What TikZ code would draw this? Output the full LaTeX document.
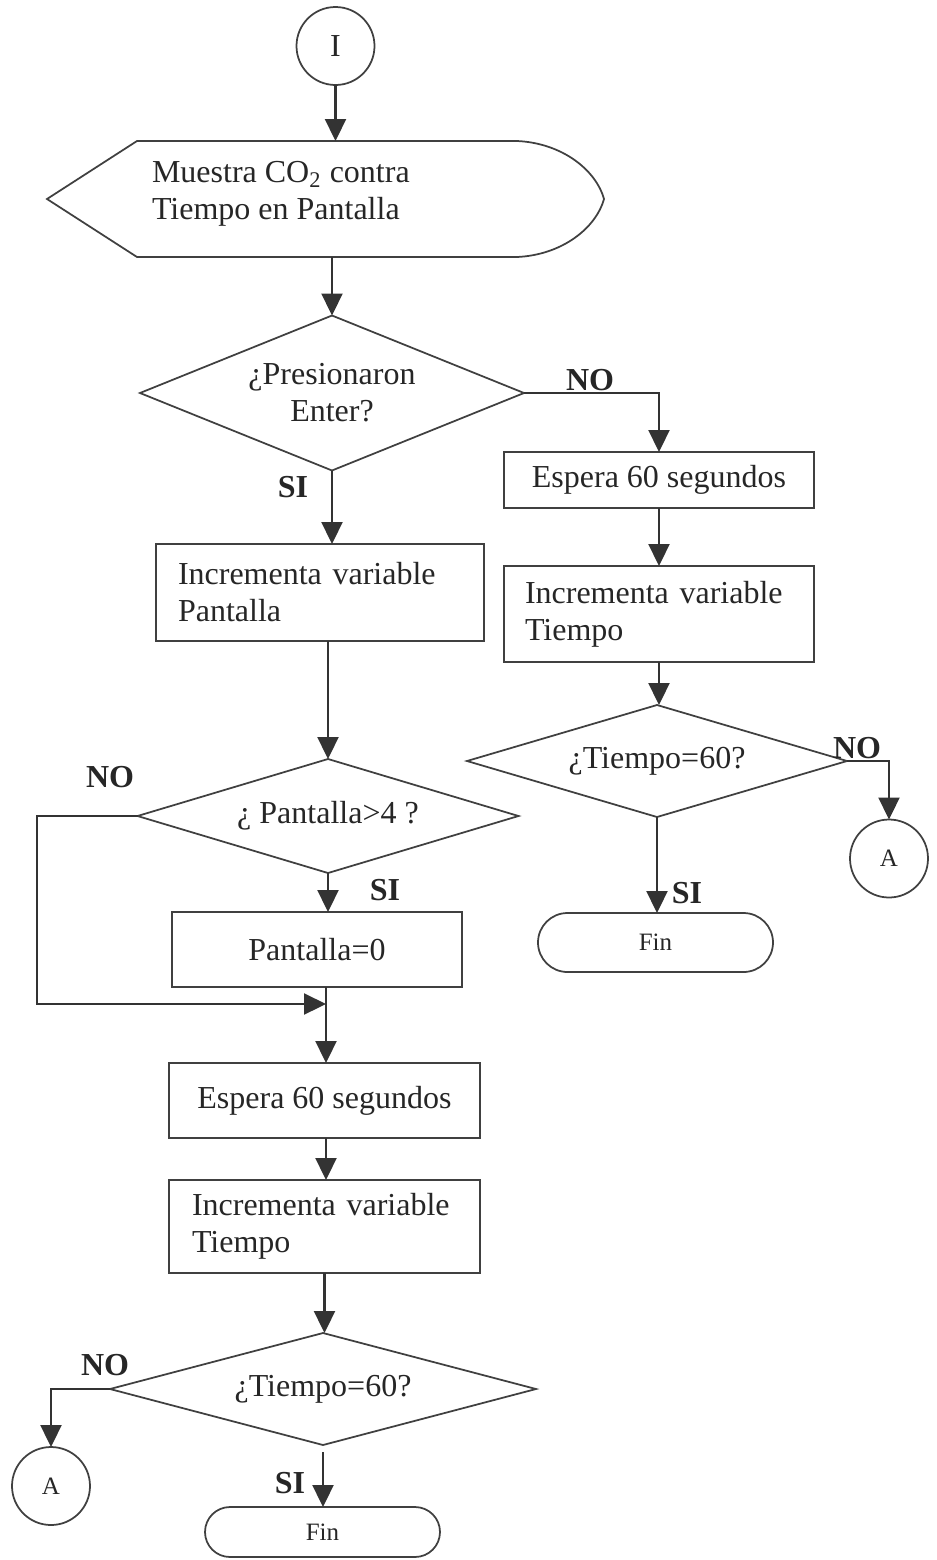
\documentclass[tikz,border=0pt]{standalone}
\usepackage{fontspec}
\setmainfont{Liberation Serif}
\usetikzlibrary{arrows.meta,shapes.geometric,shapes.misc}
\begin{document}
\begin{tikzpicture}[x=0.4pt,y=-0.4pt,
  shp/.style={draw=black!75, line width=0.7pt, inner sep=0pt, outer sep=0pt,
              text=black!85, font=\fontsize{12.8}{14.8}\selectfont},
  procbox/.style={shp, rectangle},
  decision/.style={shp, diamond, align=center},
  termbox/.style={shp, rounded rectangle, font=\fontsize{10}{12}\selectfont},
  connector/.style={shp, circle},
  txt/.style={inner sep=0pt, outer sep=0pt, text=black!85, font=\fontsize{12.8}{14.8}\selectfont},
  lbl/.style={inner sep=0pt, text=black!85, font=\fontsize{12.8}{14.8}\selectfont\bfseries},
  outline/.style={draw=black!75, line width=0.7pt},
  line/.style={draw=black!80, line width=0.9pt},
  arr/.style={line, -{Triangle[length=8.8pt,width=8.4pt]}}
]
\useasboundingbox (0,0) rectangle (937,1560);

% ---------- nodes ----------
\node[connector, minimum size=78*0.4pt] (cI) at (335.5,46) {I};

\node[inner sep=0pt, outer sep=0pt, minimum width=557*0.4pt, minimum height=116*0.4pt] (disp) at (325.5,199) {};
\draw[outline] (47,199) -- (137,141) -- (517,141)
  .. controls (562,143) and (596,170) .. (604,199)
  .. controls (596,228) and (562,255) .. (517,257) -- (137,257) -- cycle;
\node[txt, anchor=west, align=left] (dispText) at (152,194) {Muestra CO\textsubscript{2} contra\\Tiempo en Pantalla};

\node[decision, aspect=2.5, minimum width=384*0.4pt, minimum height=155*0.4pt] (d1) at (332,393) {¿Presionaron\\Enter?};

\node[procbox, minimum width=328*0.4pt, minimum height=97*0.4pt, text width=284*0.4pt, align=left] (bPant) at (320,592.5) {Incrementa variable\\Pantalla};

\node[procbox, minimum width=310*0.4pt, minimum height=56*0.4pt, align=center] (bEsp1) at (659,480) {Espera 60 segundos};
\node[procbox, minimum width=310*0.4pt, minimum height=96*0.4pt, text width=268*0.4pt, align=left] (bInc1) at (659,614) {Incrementa variable\\Tiempo};
\node[decision, aspect=3.4, minimum width=380*0.4pt, minimum height=112*0.4pt] (d4) at (657,761) {¿Tiempo=60?};
\node[termbox, minimum width=235*0.4pt, minimum height=59*0.4pt] (fin1) at (655.5,942.5) {Fin};
\node[connector, minimum size=78*0.4pt, font=\fontsize{10}{12}\selectfont] (cA1) at (889,858.5) {A};

\node[decision, aspect=3.34, minimum width=381*0.4pt, minimum height=114*0.4pt] (d2) at (328,816) {¿ Pantalla>4 ?};
\node[procbox, minimum width=290*0.4pt, minimum height=75*0.4pt, align=center] (bP0) at (317,949.5) {Pantalla=0};
\node[procbox, minimum width=311*0.4pt, minimum height=75*0.4pt, align=center] (bEsp2) at (324.5,1100.5) {Espera 60 segundos};
\node[procbox, minimum width=311*0.4pt, minimum height=93*0.4pt, text width=265*0.4pt, align=left] (bInc2) at (324.5,1226.5) {Incrementa variable\\Tiempo};
\node[decision, aspect=3.8, minimum width=426*0.4pt, minimum height=112*0.4pt] (d3) at (323,1389) {¿Tiempo=60?};
\node[connector, minimum size=78*0.4pt, font=\fontsize{10}{12}\selectfont] (cA2) at (51,1486) {A};
\node[termbox, minimum width=235*0.4pt, minimum height=50*0.4pt] (fin2) at (322.5,1532) {Fin};

% ---------- labels ----------
\node[lbl] (lNO1) at (590,380) {NO};
\node[lbl] (lSI1) at (293,487) {SI};
\node[lbl] (lNO2) at (110,777) {NO};
\node[lbl] (lSI2) at (385,890) {SI};
\node[lbl] (lNO4) at (857,748) {NO};
\node[lbl] (lSI4) at (687,893) {SI};
\node[lbl] (lNO3) at (105,1365) {NO};
\node[lbl] (lSI3) at (290,1483) {SI};

% ---------- connectors ----------
\draw[arr] (cI.south) -- (cI.south |- disp.north);
\draw[arr] (d1.north |- disp.south) -- (d1.north);
\draw[arr] (d1.east) -| (bEsp1.north);
\draw[arr] (d1.south) -- (d1.south |- bPant.north);
\draw[arr] (bEsp1.south) -- (bInc1.north);
\draw[arr] (bInc1.south) -- (bInc1.south |- d4.north);
\draw[arr] (d4.east) -| (cA1.north);
\draw[arr] (d4.south) -- (d4.south |- fin1.north);

\draw[arr] (bPant.south -| d2.north) -- (d2.north);
\draw[arr] (d2.south) -- (d2.south |- bP0.north);
\coordinate (lft) at (37,1004);
\coordinate (jn) at (326,1004);
\draw[arr] (d2.west) -| (lft) -- (jn);
\draw[line] (bP0.south -| jn) -- (jn);
\draw[arr] (jn) -- (jn |- bEsp2.north);
\draw[arr] (bEsp2.south -| jn) -- (jn |- bInc2.north);
\draw[arr] (bInc2.south) -- (bInc2.south |- d3.north);
\draw[arr] (d3.west) -| (cA2.north);
\draw[arr, shorten <=2.8pt] (d3.south) -- (d3.south |- fin2.north);
\end{tikzpicture}
\end{document}
